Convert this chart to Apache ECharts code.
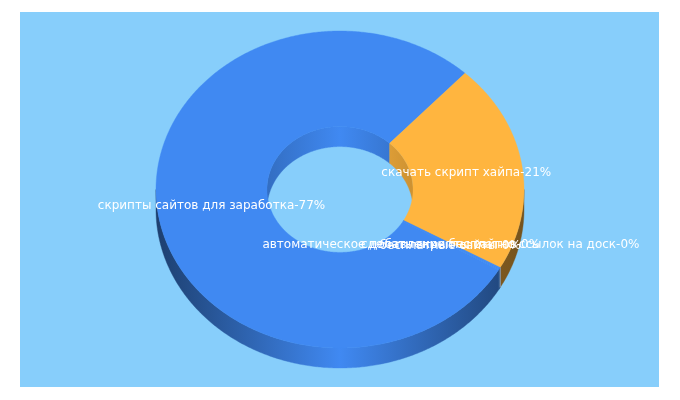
<!DOCTYPE html>
<html><head><meta charset="utf-8">
<style>html,body{margin:0;padding:0;background:#fff}#c{width:680px;height:400px}</style>
<script src="https://cdn.jsdelivr.net/npm/echarts@6/dist/echarts.min.js"></script>
</head><body><div id="c"></div>
<script>
const categories = [
  'скрипты сайтов для заработка',
  'скачать скрипт хайпа',
  'автоматическое добавление бесплатно ссылок на доск',
  'сделать скрипты сайтов',
  'бесплатные сайты'
];
const shares = [78.4, 21.3, 0.1, 0.1, 0.1];
const shareLabels = [77, 21, 0, 0, 0];
const sliceColors = ['#4089f2', '#ffb53f', '#4089f2', '#4089f2', '#4089f2'];

const CX = 340, CY = 189.5, RX = 184, RY = 158.5, HOLE = 0.397, DEPTH = 20;
const ORANGE_START = 47.2;
const total = shares.reduce((a, b) => a + b, 0);
const deg = shares.map(v => v / total * 360);
const START = ORANGE_START + deg[0];
const bounds = [];
let cur = START;
deg.forEach(d => { bounds.push([cur, cur - d]); cur -= d; });

function pt(a, k, dy) {
  const r = a * Math.PI / 180;
  return [CX + RX * k * Math.cos(r), CY - RY * k * Math.sin(r) + dy];
}
function arc(a0, a1, k, dy) {
  const pts = [], n = Math.max(1, Math.ceil(Math.abs(a0 - a1) * 2));
  for (let i = 0; i <= n; i++) pts.push(pt(a0 + (a1 - a0) * i / n, k, dy));
  return pts;
}
function shade(hex, f) {
  const n = parseInt(hex.slice(1), 16);
  return 'rgb(' + [n >> 16 & 255, n >> 8 & 255, n & 255].map(c => Math.round(c * f)).join(',') + ')';
}
function wallFill(hex, k, edge) {
  return new echarts.graphic.LinearGradient(CX - RX * k, 0, CX + RX * k, 0, [
    { offset: 0, color: shade(hex, edge) },
    { offset: 0.5, color: shade(hex, 1) },
    { offset: 1, color: shade(hex, edge) }
  ], true);
}
function clip(hi, lo, bandHi, bandLo) {
  const out = [];
  for (const s of [-360, 0, 360]) {
    const h = Math.min(hi, bandHi + s), l = Math.max(lo, bandLo + s);
    if (h > l) out.push([h, l]);
  }
  return out;
}
function sideItem(params, api) {
  const i = api.value(0), [a0, a1] = bounds[i], color = sliceColors[i], children = [];
  clip(a0, a1, 180, 0).forEach(([h, l]) => {
    const fill = wallFill(color, HOLE, 0.8);
    children.push({ type: 'polygon', shape: { points: arc(h, l, HOLE, 0).concat(arc(l, h, HOLE, DEPTH)) },
      style: { fill, stroke: fill, lineWidth: 0.4 }, silent: true });
  });
  clip(a0, a1, 0, -180).forEach(([h, l]) => {
    const fill = color === sliceColors[1]
      ? new echarts.graphic.LinearGradient(CX - RX, 0, CX + RX, 0, [
          { offset: 0, color: shade(color, 0.46) },
          { offset: 0.5, color: shade(color, 0.9) },
          { offset: 0.9, color: shade(color, 0.5) },
          { offset: 1, color: shade(color, 0.46) }
        ], true)
      : wallFill(color, 1, 0.46);
    children.push({ type: 'polygon', shape: { points: arc(h, l, 1, 0).concat(arc(l, h, 1, DEPTH)) },
      style: { fill, stroke: fill, lineWidth: 0.4 }, silent: true });
  });
  return { type: 'group', children };
}
function topItem(params, api) {
  const i = api.value(0), [a0, a1] = bounds[i], color = sliceColors[i];
  const children = [{ type: 'polygon', shape: { points: arc(a0, a1, 1, 0).concat(arc(a1, a0, HOLE, 0)) },
    style: { fill: color, stroke: color, lineWidth: 0.4 }, silent: true }];
  if (i === 1) {
    const p = pt(a1, 1, 0);
    children.push({ type: 'line', shape: { x1: p[0], y1: p[1], x2: p[0], y2: p[1] + DEPTH },
      style: { stroke: '#97a3b3', lineWidth: 1 }, silent: true });
  }
  return { type: 'group', children };
}
function labelItem(params, api) {
  const i = api.value(0), [a0, a1] = bounds[i], p = pt((a0 + a1) / 2, 0.7, 0);
  return { type: 'text', x: p[0] - 1, y: p[1], silent: true,
    style: { text: categories[i] + '-' + shareLabels[i] + '%', fill: '#fff',
      font: '12px "DejaVu Sans"', align: 'center', verticalAlign: 'middle' } };
}
const rows = shares.map((v, i) => [i, v]);
const chart = echarts.init(document.getElementById('c'), null, { renderer: 'canvas' });
chart.setOption({
  animation: false,
  backgroundColor: '#ffffff',
  graphic: [{ type: 'rect', z: 0, silent: true, shape: { x: 20, y: 12, width: 639, height: 375 },
    style: { fill: '#87cefb' } }],
  series: [
    { type: 'custom', coordinateSystem: 'none', z: 2, data: rows, renderItem: sideItem, silent: true },
    { type: 'custom', coordinateSystem: 'none', z: 3, data: rows, renderItem: topItem, silent: true },
    { type: 'custom', coordinateSystem: 'none', z: 4, data: rows, renderItem: labelItem, silent: true }
  ]
});
</script></body></html>
